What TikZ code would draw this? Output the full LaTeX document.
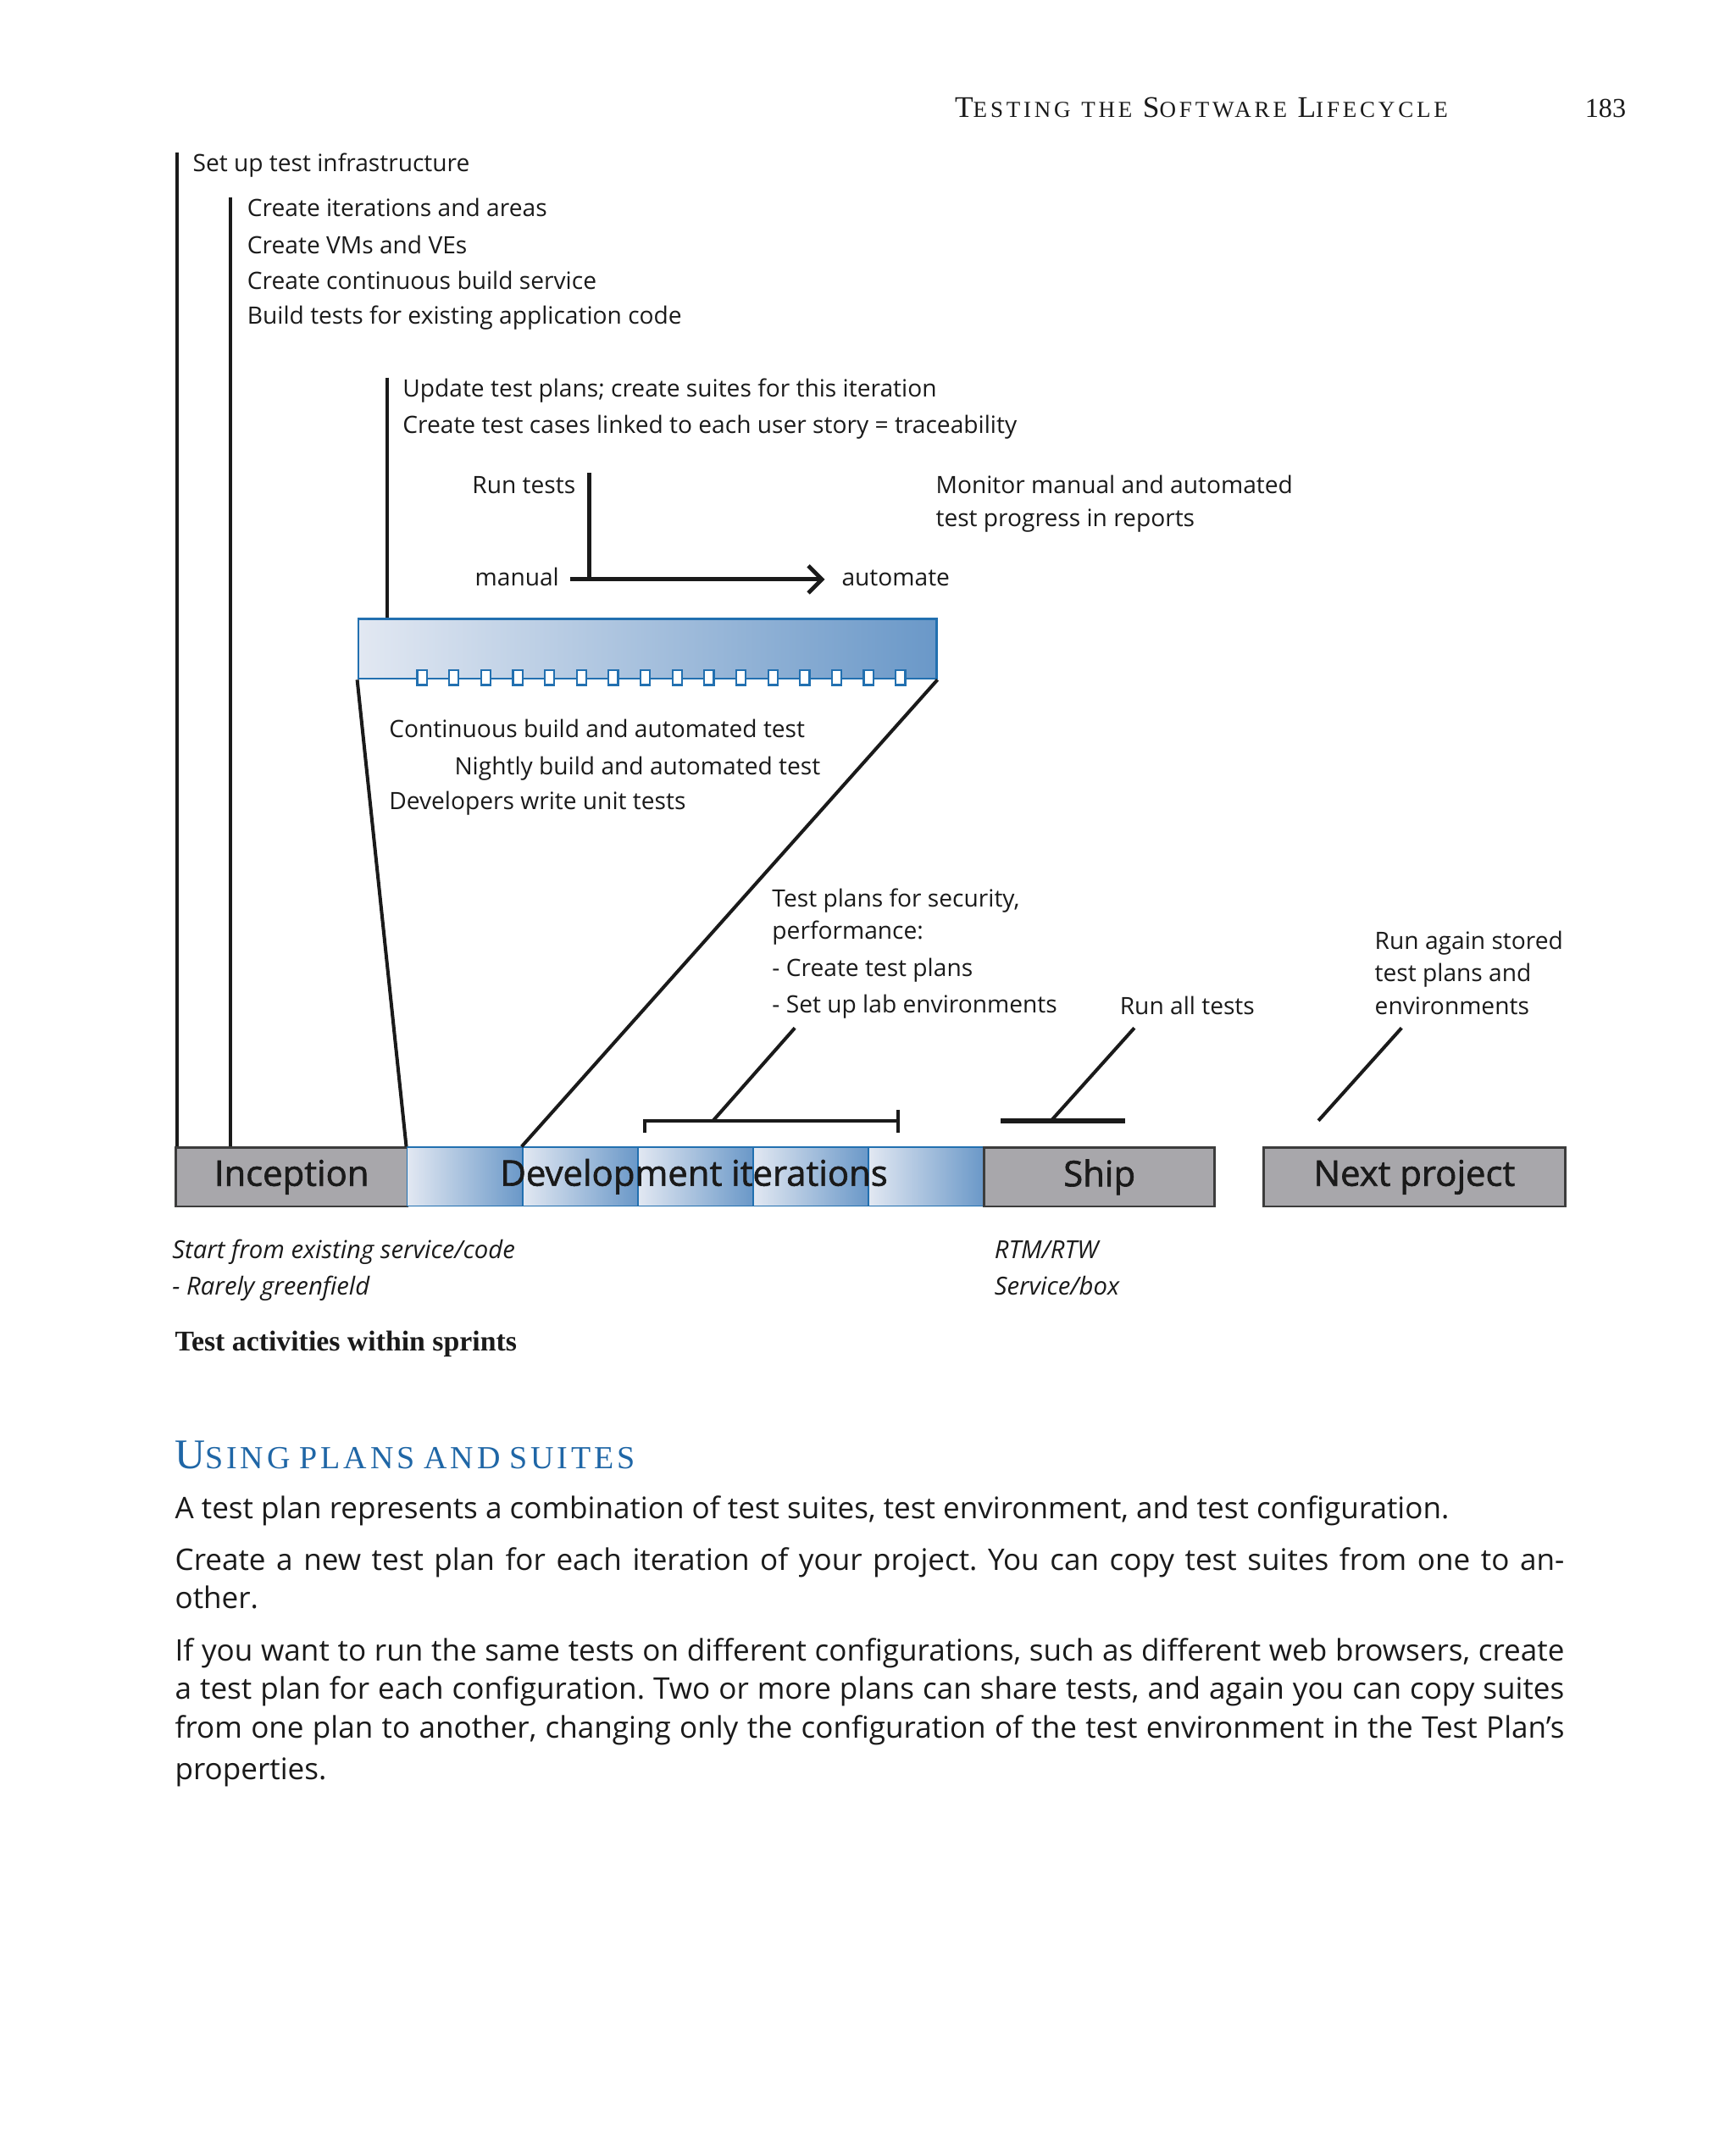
\documentclass[tikz,border=0pt]{standalone}
\usepackage{fontspec}
\setsansfont{Open Sans}
\newfontfamily\serf{Liberation Serif}
\newfontfamily\hdrf[LetterSpace=14]{Liberation Serif}
\newfontfamily\secf[LetterSpace=10]{Liberation Serif}
\newfontfamily\barf[FakeBold=1.5]{Open Sans}
\usetikzlibrary{arrows.meta}
\definecolor{ink}{HTML}{1A1A1A}
\definecolor{barblue}{HTML}{2270B0}
\definecolor{gl}{HTML}{E2E8F2}
\definecolor{gr}{HTML}{6A98C8}
\definecolor{gbox}{HTML}{A8A7AB}
\definecolor{headblue}{HTML}{1F66A6}
\newcommand{\hsc}[2]{{\fontsize{11}{12}\selectfont #1}{\fontsize{8.4}{10}\selectfont #2}}
\newcommand{\bsc}[2]{{\fontsize{15.5}{17}\selectfont #1}{\fontsize{11.8}{13}\selectfont #2}}
\frenchspacing
\begin{document}
\begin{tikzpicture}[x=0.5pt,y=-0.5pt,
  lbl/.style={font=\sffamily\fontsize{8.75}{10}\selectfont, text=ink, anchor=base west, inner sep=0pt},
  capt/.style={font=\sffamily\itshape\fontsize{9.1}{10}\selectfont, text=ink, anchor=base west, inner sep=0pt},
  body/.style={font=\sffamily\fontsize{10.9}{13}\selectfont, text=ink, anchor=base west, inner sep=0pt},
  ln/.style={draw=ink, line width=1.25pt},
  phase/.style={draw=ink!85, line width=0.9pt, fill=gbox, minimum height=21.5pt, inner sep=0pt, anchor=north west, font=\barf\fontsize{13}{15}\selectfont, text=ink},
  iter/.style={draw=barblue, line width=0.6pt, left color=gl, right color=gr, anchor=north west, minimum height=21.5pt, minimum width=42.3pt, inner sep=0pt},
  tick/.style={draw=barblue, line width=0.7pt, fill=white, minimum width=3.5pt, minimum height=5.5pt, inner sep=0pt}
]
\path[use as bounding box] (0,0) rectangle (1273,1566);
\fill[white] (0,0) rectangle (1273,1566);

% header
\node[anchor=base west, inner sep=0pt, text=ink, font=\hdrf] (hdr) at (700,86) {\hsc{T}{ESTING} \hsc{}{THE} \hsc{S}{OFTWARE} \hsc{L}{IFECYCLE}};
\node[anchor=base east, inner sep=0pt, text=ink, font=\serf\fontsize{10}{12}\selectfont] (pg) at (1193,86) {183};

% labels top
\node[lbl] (l1) at (141,126) {Set up test infrastructure};
\node[lbl] (l2) at (181,159) {Create iterations and areas};
\node[lbl] (l3) at (181,186) {Create VMs and VEs};
\node[lbl] (l4) at (181,212) {Create continuous build service};
\node[lbl] (l5) at (181,238) {Build tests for existing application code};
\node[lbl] (l6) at (295,291) {Update test plans; create suites for this iteration};
\node[lbl] (l7) at (295,318) {Create test cases linked to each user story = traceability};
\node[lbl] (runt) at (346,362) {Run tests};
\node[lbl] (mon1) at (686,362) {Monitor manual and automated};
\node[lbl] (mon2) at (686,386) {test progress in reports};
\node[lbl] (man) at (348,430) {manual};
\node[lbl] (aut) at (617,430) {automate};

% sprint bar
\node[draw=barblue, line width=0.8pt, left color=gl, right color=gr, minimum width=212pt, minimum height=22pt, anchor=north west, inner sep=0pt] (sprint) at (262,453) {};
\foreach \i in {0,...,15} \node[tick] (t\i) at ({309.5+23.4*\i},497) {};

\node[lbl] (c1) at (285,541) {Continuous build and automated test};
\node[lbl] (c2) at (333,568) {Nightly build and automated test};
\node[lbl] (c3) at (285,594) {Developers write unit tests};

\node[lbl] (s1) at (566,665) {Test plans for security,};
\node[lbl] (s2) at (566,689) {performance:};
\node[lbl] (s3) at (566,716) {- Create test plans};
\node[lbl] (s4) at (566,743) {- Set up lab environments};
\node[lbl] (rall) at (821,744) {Run all tests};
\node[lbl] (rg1t) at (1008,696) {Run again stored};
\node[lbl] (rg2t) at (1008,720) {test plans and};
\node[lbl] (rg3t) at (1008,744) {environments};

% phase bar
\node[phase, minimum width=85pt] (inc) at (128,841) {Inception};
\node[iter] (it1) at (298,841) {};
\node[iter] (it2) at (382.6,841) {};
\node[iter] (it3) at (467.2,841) {};
\node[iter] (it4) at (551.8,841) {};
\node[iter] (it5) at (636.4,841) {};
\node[inner sep=0pt, font=\barf\fontsize{13}{15}\selectfont, text=ink] (devlbl) at (509,863) {Development iterations};
\node[phase, minimum width=84.5pt] (ship) at (721,841) {Ship};
\node[phase, minimum width=110.5pt] (next) at (926,841) {Next project};

% connectors
\coordinate (v1top) at (130,112);
\coordinate (v2top) at (169,145);
\coordinate (v3top) at (284,277);
\draw[ln] (v1top) -- (v1top |- inc.north);
\draw[ln] (v2top) -- (v2top |- inc.north);
\draw[ln] (v3top) -- (v3top |- sprint.north);
\draw[ln] (sprint.south west) -- (it1.north west);
\draw[ln] (sprint.south east) -- (it2.north west);

\coordinate (rt) at (432,347);
\coordinate (ma) at (418,425);
\coordinate (au) at (605,425);
\draw[ln, line width=1.5pt] (rt) -- (rt |- ma);
\draw[ln, line width=1.5pt, -{Straight Barb[length=5pt,width=10pt]}] (ma) -- (au);

\coordinate (bkLd) at (473,831);
\coordinate (bkL) at (473,822);
\coordinate (bkR) at (659,822);
\coordinate (bkRu) at (659,814);
\coordinate (bkRd) at (659,831);
\coordinate (bkM) at (523,822);
\coordinate (tp) at (583,754);
\draw[ln] (bkLd) -- (bkL) -- (bkR);
\draw[ln] (bkRu) -- (bkRd);
\draw[ln] (bkM) -- (tp);

\coordinate (rh1) at (734,822);
\coordinate (rh2) at (825,822);
\coordinate (ra1) at (771,822);
\coordinate (ra2) at (832,754);
\draw[ln, line width=1.8pt] (rh1) -- (rh2);
\draw[ln] (ra1) -- (ra2);
\coordinate (rg1) at (967,822);
\coordinate (rg2) at (1028,754);
\draw[ln] (rg1) -- (rg2);

% captions
\node[capt] (st1) at (126,923) {Start from existing service/code};
\node[capt] (st2) at (126,950) {- Rarely greenfield};
\node[capt] (rtm) at (729,923) {RTM/RTW};
\node[capt] (svc) at (729,950) {Service/box};
\node[anchor=base west, inner sep=0pt, text=ink, font=\serf\bfseries\fontsize{10.5}{12}\selectfont] (figcap) at (128,991) {Test activities within sprints};

% section
\node[anchor=base west, inner sep=0pt, text=headblue, font=\secf] (sec) at (128,1077) {\bsc{U}{SING} \bsc{}{PLANS} \bsc{}{AND} \bsc{}{SUITES}};
\node[body] (b1) at (128,1114) {A test plan represents a combination of test suites, test environment, and test configuration.};
\node[body] (b2) at (128,1152) {\makebox[509.5pt][s]{Create a new test plan for each iteration of your project. You can copy test suites from one to an-}};
\node[body] (b3) at (128,1180) {other.};
\node[body] (b4) at (128,1218) {\makebox[509.5pt][s]{If you want to run the same tests on different configurations, such as different web browsers, create}};
\node[body] (b5) at (128,1246) {\makebox[509.5pt][s]{a test plan for each configuration. Two or more plans can share tests, and again you can copy suites}};
\node[body] (b6) at (128,1275) {\makebox[509.5pt][s]{from one plan to another, changing only the configuration of the test environment in the Test Plan’s}};
\node[body] (b7) at (128,1305) {properties.};
\end{tikzpicture}
\end{document}
